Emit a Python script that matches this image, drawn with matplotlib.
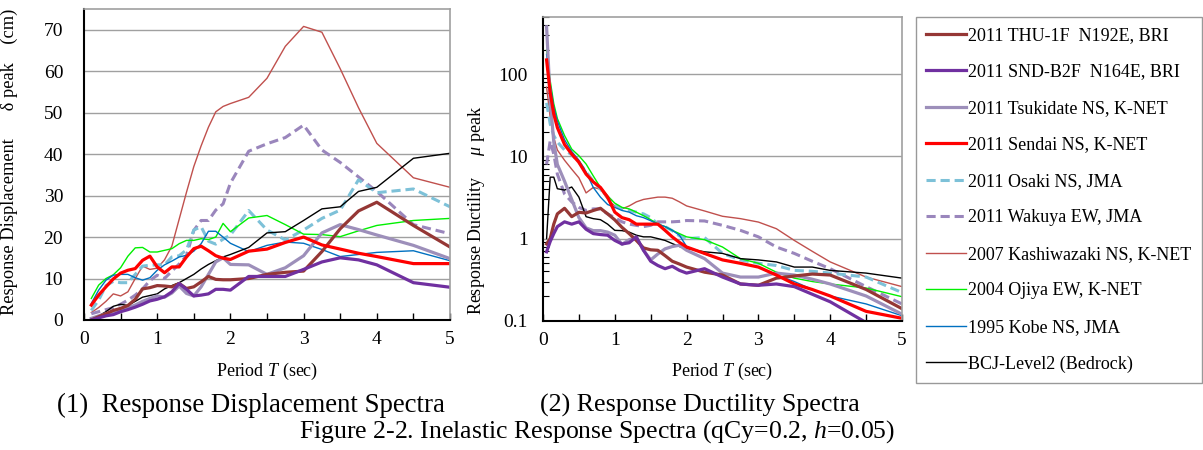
import numpy as np
import matplotlib
matplotlib.use("Agg")
import matplotlib.pyplot as plt
from matplotlib.ticker import MultipleLocator, LogLocator, FixedLocator, NullFormatter

plt.rcParams['font.family'] = ['Liberation Serif', 'DejaVu Serif']
plt.rcParams['mathtext.fontset'] = 'custom'
plt.rcParams['mathtext.rm'] = 'Liberation Serif'
plt.rcParams['mathtext.it'] = 'Liberation Serif:italic'

# periods (sec)
T_disp = [0.1, 0.2, 0.3, 0.4, 0.5, 0.6, 0.7, 0.8, 0.9, 1.0, 1.1, 1.2, 1.3, 1.4, 1.5,
          1.6, 1.7, 1.8, 1.9, 2.0, 2.25, 2.5, 2.75, 3.0, 3.25, 3.5, 3.75, 4.0, 4.5, 5.0]
T_duct = [0.05, 0.1, 0.15, 0.2, 0.3, 0.4, 0.5, 0.6, 0.7, 0.8, 0.9, 1.0, 1.1, 1.2, 1.3, 1.4,
          1.5, 1.6, 1.7, 1.8, 1.9, 2.0, 2.25, 2.5, 2.75, 3.0, 3.25, 3.5, 3.75, 4.0, 4.5, 5.0]

labels = ["2011 THU-1F  N192E, BRI", "2011 SND-B2F  N164E, BRI", "2011 Tsukidate NS, K-NET",
          "2011 Sendai NS, K-NET", "2011 Osaki NS, JMA", "2011 Wakuya EW, JMA",
          "2007 Kashiwazaki NS, K-NET", "2004 Ojiya EW, K-NET", "1995 Kobe NS, JMA",
          "BCJ-Level2 (Bedrock)"]

# response displacement (cm)
thu_disp = [0, 0.8, 1.5, 2.3, 2.8, 3.5, 5.0, 7.5, 7.8, 8.3, 8.2, 8.0, 8.8, 7.6, 8.0,
            9.2, 10.5, 9.8, 9.7, 9.7, 10.0, 11.0, 11.5, 11.8, 16.5, 22.0, 26.3, 28.4, 22.8, 17.6]
snd_disp = [0, 0.5, 1.0, 1.3, 2.0, 2.5, 3.1, 3.8, 4.6, 5.0, 5.6, 6.8, 8.8, 7.4, 5.8,
            6.0, 6.3, 7.4, 7.4, 7.2, 10.5, 10.5, 10.5, 12.2, 14.0, 15.0, 14.5, 13.3, 9.0, 7.9]
tsu_disp = [0.4, 1.0, 1.5, 2.0, 2.5, 3.0, 3.6, 4.5, 5.2, 5.8, 5.5, 6.5, 8.2, 6.4, 5.8,
            8.0, 11.0, 14.0, 15.0, 13.4, 13.3, 11.0, 12.6, 15.5, 21.0, 23.0, 21.8, 20.5, 18.0, 14.8]
sen_disp = [3.6, 6.0, 8.0, 9.9, 11.3, 12.0, 12.4, 14.4, 15.4, 12.8, 11.4, 12.8, 12.8, 15.2, 17.2,
            17.8, 16.7, 15.5, 14.9, 14.6, 16.6, 17.1, 18.7, 20.0, 18.1, 17.1, 16.1, 15.3, 13.6, 13.6]
osa_disp = [2.3, 4.8, 8.3, 9.3, 9.0, 9.0, 11.0, 13.0, 13.2, 13.3, 13.3, 15.2, 15.5, 16.9, 21.7,
            22.5, 19.0, 18.3, 19.5, 20.5, 26.4, 21.7, 19.3, 21.7, 24.5, 26.5, 33.8, 30.7, 31.6, 27.3]
wak_disp = [1.5, 2.0, 2.5, 3.0, 3.8, 4.8, 6.0, 7.5, 9.5, 10.8, 10.0, 11.8, 13.5, 15.5, 21.6,
            24.0, 24.0, 26.5, 28.0, 33.0, 40.7, 42.5, 44.0, 47.0, 41.0, 38.0, 34.5, 31.0, 23.0, 20.8]
kas_disp = [1.8, 3.0, 4.5, 6.3, 5.8, 6.8, 10.0, 13.0, 12.2, 12.5, 14.5, 17.8, 24.3, 30.8, 37.0,
            42.0, 46.5, 50.2, 51.5, 52.2, 53.7, 58.3, 66.0, 70.8, 69.4, 60.6, 51.2, 42.6, 34.3, 32.0]
oji_disp = [5.2, 8.4, 10.0, 10.9, 12.6, 15.4, 17.4, 17.5, 16.4, 16.4, 16.8, 17.2, 18.4, 19.2, 19.2,
            19.6, 19.4, 20.0, 23.3, 21.3, 24.6, 25.2, 23.0, 20.7, 20.6, 20.1, 21.5, 22.8, 24.0, 24.5]
kob_disp = [4.0, 7.2, 9.6, 10.8, 11.0, 11.0, 10.2, 9.6, 10.2, 12.0, 13.3, 14.2, 15.2, 15.6, 16.6,
            18.4, 21.4, 21.4, 20.0, 18.5, 16.5, 18.0, 18.8, 18.5, 17.0, 15.3, 15.8, 16.3, 16.7, 14.3]
bcj_disp = [0.3, 1.0, 2.0, 3.3, 3.8, 3.5, 4.5, 5.5, 5.9, 6.3, 7.5, 8.3, 9.0, 10.0, 11.0,
            12.3, 13.4, 14.3, 15.2, 15.8, 17.5, 21.0, 21.3, 24.0, 26.8, 27.3, 31.0, 32.0, 39.0, 40.2]

# response ductility
thu_duct = [0.86, 1.0, 1.5, 2.0, 2.34, 1.85, 2.09, 2.05, 2.2, 2.34, 2.0, 1.69, 1.37, 1.15, 0.95, 0.77,
            0.73, 0.72, 0.62, 0.53, 0.49, 0.45, 0.39, 0.36, 0.28, 0.27, 0.33, 0.35, 0.37, 0.36, 0.24, 0.14]
snd_duct = [0.69, 0.92, 1.15, 1.4, 1.6, 1.5, 1.6, 1.3, 1.15, 1.12, 1.1, 0.95, 0.86, 0.89, 1.05, 0.72,
            0.53, 0.47, 0.43, 0.46, 0.41, 0.38, 0.43, 0.34, 0.28, 0.27, 0.28, 0.26, 0.21, 0.17, 0.095, 0.06]
tsu_duct = [380, 50, 15, 8.0, 5.0, 3.0, 1.8, 1.35, 1.25, 1.25, 1.2, 1.1, 0.85, 0.97, 1.03, 0.72,
            0.55, 0.65, 0.75, 0.8, 0.83, 0.72, 0.57, 0.38, 0.34, 0.34, 0.38, 0.36, 0.32, 0.28, 0.2, 0.12]
sen_duct = [150, 60, 33, 22.5, 14, 10.7, 8.5, 6.1, 4.9, 4.2, 3.2, 2.1, 1.8, 1.7, 1.5, 1.5,
            1.5, 1.5, 1.26, 1.05, 0.9, 0.79, 0.66, 0.55, 0.5, 0.45, 0.36, 0.28, 0.24, 0.2, 0.13, 0.107]
osa_duct = [45, 25, 18, 15, 12, 10.5, 8.5, 6.5, 5.0, 4.0, 3.2, 2.6, 2.3, 2.2, 2.1, 2.0,
            1.8, 1.5, 1.4, 1.25, 1.08, 1.0, 1.03, 0.66, 0.55, 0.5, 0.47, 0.41, 0.4, 0.38, 0.34, 0.22]
wak_duct = [8.0, 15.5, 10.7, 6.1, 3.5, 2.8, 2.4, 2.2, 2.3, 2.3, 2.0, 1.8, 1.6, 1.5, 1.45, 1.4,
            1.45, 1.6, 1.6, 1.6, 1.62, 1.66, 1.64, 1.45, 1.26, 1.05, 0.79, 0.66, 0.53, 0.43, 0.26, 0.16]
kas_duct = [70, 30, 17, 12, 9.0, 7.0, 5.5, 3.6, 4.2, 4.0, 3.0, 2.5, 2.3, 2.5, 2.8, 3.0,
            3.1, 3.2, 3.2, 3.1, 2.8, 2.5, 2.17, 1.87, 1.75, 1.59, 1.32, 0.95, 0.7, 0.52, 0.34, 0.26]
oji_duct = [200, 84, 44, 29, 18, 12.3, 10.2, 8.1, 5.8, 4.2, 3.3, 2.7, 2.4, 2.3, 2.1, 1.9,
            1.7, 1.5, 1.4, 1.26, 1.15, 1.05, 0.97, 0.79, 0.57, 0.5, 0.39, 0.33, 0.3, 0.28, 0.25, 0.196]
kob_duct = [175, 75, 40, 27, 16, 11.5, 9.0, 6.5, 4.2, 3.2, 2.6, 2.4, 2.2, 2.1, 1.9, 1.8,
            1.65, 1.5, 1.4, 1.26, 1.1, 0.8, 0.65, 0.55, 0.5, 0.45, 0.36, 0.3, 0.24, 0.2, 0.16, 0.115]
bcj_duct = [1.0, 5.6, 5.6, 4.05, 3.9, 4.25, 3.2, 1.85, 1.75, 1.7, 1.5, 1.26, 1.25, 1.2, 1.1, 1.05,
            1.05, 1.0, 0.95, 0.87, 0.8, 0.76, 0.69, 0.66, 0.57, 0.55, 0.52, 0.45, 0.45, 0.41, 0.38, 0.33]

colors = ["#953735", "#7030A0", "#9D8FBA", "#FF0000", "#7DC1D8", "#9A86BC",
          "#C0504D", "#00F000", "#0070C0", "#000000"]
widths = [2.3, 2.3, 2.3, 2.3, 2.2, 2.2, 1.0, 1.0, 1.0, 1.0]
dashed = (0, (3, 1.6))
styles = ["-", "-", "-", "-", dashed, dashed, "-", "-", "-", "-"]

disp = [thu_disp, snd_disp, tsu_disp, sen_disp, osa_disp, wak_disp, kas_disp, oji_disp, kob_disp, bcj_disp]
duct = [thu_duct, snd_duct, tsu_duct, sen_duct, osa_duct, wak_duct, kas_duct, oji_duct, kob_duct, bcj_duct]

fig = plt.figure(figsize=(12.03, 4.5), dpi=100)
ax1 = fig.add_axes([84 / 1203, 1 - 320 / 450, 366 / 1203, 311 / 450])
ax2 = fig.add_axes([543 / 1203, 1 - 320.7 / 450, 359 / 1203, 303.7 / 450])

order = [6, 5, 4, 7, 8, 9, 2, 0, 3, 1]  # drawing order (thin first, thick on top)
handles = [None] * 10
for i in order:
    h, = ax1.plot(T_disp, disp[i], color=colors[i], lw=widths[i], ls=styles[i], label=labels[i])
    handles[i] = h
    ax2.plot(T_duct, duct[i], color=colors[i], lw=widths[i], ls=styles[i])

grid_c = "#A0A0A0"
for ax in (ax1, ax2):
    ax.set_xlim(0, 5)
    ax.xaxis.set_major_locator(MultipleLocator(1))
    ax.xaxis.set_minor_locator(MultipleLocator(0.5))
    ax.tick_params(axis='x', which='both', direction='in', length=5, width=1, labelsize=14, pad=8)
    ax.spines['left'].set_linewidth(1.5)
    ax.spines['bottom'].set_linewidth(1.5)
    for s in ('top', 'right'):
        ax.spines[s].set_color(grid_c)
        ax.spines[s].set_linewidth(1.2)
    ax.yaxis.grid(True, which='major', color=grid_c, lw=1)
    ax.set_axisbelow(True)
    ax.set_xlabel("Period $T$ (sec)", fontsize=13, labelpad=9)

ax1.set_ylim(0, 75)
ax1.yaxis.set_major_locator(MultipleLocator(10))
ax1.tick_params(axis='y', length=0, labelsize=14, pad=15)
ax1.set_ylabel("Response Displacement      δ peak    (cm)", fontsize=13.2)
ax1.yaxis.set_label_coords(-0.18, 0.51)

ax2.set_yscale('log')
ax2.set_ylim(0.1, 500)
ax2.yaxis.set_major_locator(FixedLocator([0.1, 1, 10, 100]))
ax2.set_yticklabels(["0.1", "1", "10", "100"])
ax2.yaxis.set_minor_locator(LogLocator(base=10, subs=np.arange(2, 10)))
ax2.yaxis.set_minor_formatter(NullFormatter())
ax2.tick_params(axis='y', which='major', length=0, labelsize=14, pad=11)
ax2.tick_params(axis='y', which='minor', direction='in', length=4, width=0.8)
ax2.set_ylabel("Response Ductility     $\\mu$ peak", fontsize=13)
ax2.yaxis.set_label_coords(-0.156, 0.365)

leg = fig.legend(handles, labels, loc='upper left', bbox_to_anchor=(916 / 1203, 1 - 17 / 450),
                 fontsize=13, frameon=True, fancybox=False, edgecolor="#808080",
                 handlelength=2.2, handletextpad=0.15, labelspacing=1.08, borderpad=0.55,
                 borderaxespad=0)
leg.get_frame().set_linewidth(1)

fig.text(251 / 1203, 1 - 405 / 450, "(1)  Response Displacement Spectra", fontsize=19.3,
         ha='center', va='center')
fig.text(700 / 1203, 1 - 405 / 450, "(2) Response Ductility Spectra", fontsize=18.7,
         ha='center', va='center')
fig.text(597 / 1203, 1 - 432 / 450, "Figure 2-2. Inelastic Response Spectra (qCy=0.2, $h$=0.05)",
         fontsize=18.5, ha='center', va='center')

fig.savefig("out.png", dpi=100)
